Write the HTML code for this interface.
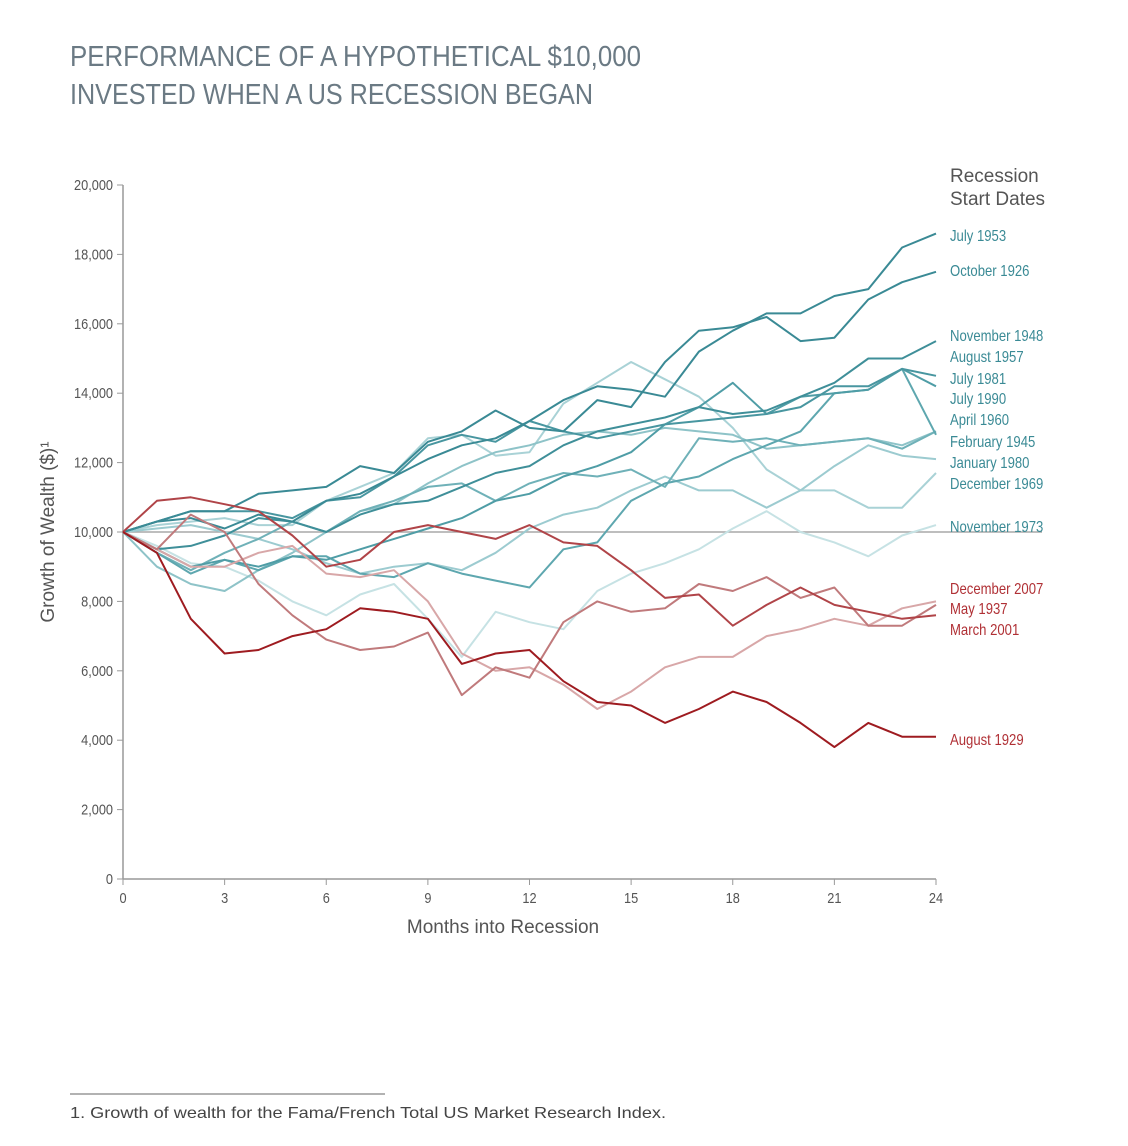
<!DOCTYPE html>
<html><head><meta charset="utf-8"><style>
body{margin:0;background:#fff;}
svg{display:block;font-family:"Liberation Sans",sans-serif;}
</style></head><body>
<svg id="chart" width="1128" height="1146" viewBox="0 0 1128 1146">
<text x="70" y="66" font-size="29" fill="#6b7a84" textLength="571" lengthAdjust="spacingAndGlyphs">PERFORMANCE OF A HYPOTHETICAL $10,000</text>
<text x="70" y="104" font-size="29" fill="#6b7a84" textLength="523" lengthAdjust="spacingAndGlyphs">INVESTED WHEN A US RECESSION BEGAN</text>
<text x="950" y="182" font-size="19" fill="#555">Recession</text>
<text x="950" y="205" font-size="19" fill="#555">Start Dates</text>
<g id="axes"></g>
<g id="lines"></g>
<g id="labels"></g>
<text x="503" y="933" font-size="19" fill="#555" text-anchor="middle">Months into Recession</text>
<text transform="translate(54,532) rotate(-90)" font-size="19" fill="#555" text-anchor="middle">Growth of Wealth ($)¹</text>
<line x1="70" y1="1094" x2="385" y2="1094" stroke="#666" stroke-width="1"/>
<text x="70" y="1118" font-size="16" fill="#444" textLength="596" lengthAdjust="spacingAndGlyphs">1.  Growth of wealth for the Fama/French Total US Market Research Index.</text>
</svg>
<script>
const xTicks=[0,3,6,9,12,15,18,21,24];
const yTicks=[0,2000,4000,6000,8000,10000,12000,14000,16000,18000,20000];
const seriesNames=["December 1969","November 1973","February 1945","January 1980","July 1990","April 1960","July 1981","August 1957","November 1948","October 1926","July 1953","December 2007","May 1937","March 2001","August 1929"];
const s_dec1969=[10,10.2,10.3,10.4,10.2,10.2,10.9,11.3,11.7,12.7,12.8,12.2,12.3,13.7,14.3,14.9,14.4,13.9,13.0,11.8,11.2,11.2,10.7,10.7,11.7];
const s_nov1973=[10,9.6,9.1,9.0,8.6,8.0,7.6,8.2,8.5,7.5,6.4,7.7,7.4,7.2,8.3,8.8,9.1,9.5,10.1,10.6,10.0,9.7,9.3,9.9,10.2];
const s_feb1945=[10,9.0,8.5,8.3,8.9,9.4,10.0,10.6,10.8,11.4,11.9,12.3,12.5,12.8,12.9,12.8,13.0,12.9,12.8,12.4,12.5,12.6,12.7,12.5,12.9];
const s_jan1980=[10,10.1,10.2,10.0,9.8,9.5,9.1,8.8,9.0,9.1,8.9,9.4,10.1,10.5,10.7,11.2,11.6,11.2,11.2,10.7,11.2,11.9,12.5,12.2,12.1];
const s_jul1990=[10,9.4,8.9,9.4,9.8,10.3,10.0,10.6,10.9,11.3,11.4,10.9,11.4,11.7,11.6,11.8,11.3,12.7,12.6,12.7,12.5,12.6,12.7,12.4,12.9];
const s_apr1960=[10,9.4,8.8,9.2,8.9,9.3,9.3,8.8,8.7,9.1,8.8,8.6,8.4,9.5,9.7,10.9,11.4,11.6,12.1,12.5,12.9,14.0,14.1,14.7,12.8];
const s_jul1981=[10,9.5,9.0,9.2,9.0,9.3,9.2,9.5,9.8,10.1,10.4,10.9,11.1,11.6,11.9,12.3,13.1,13.6,14.3,13.4,13.9,14.0,14.1,14.7,14.2];
const s_aug1957=[10,10.3,10.6,10.6,10.6,10.4,10.9,11.0,11.6,12.5,12.8,12.6,13.2,12.9,12.7,12.9,13.1,13.2,13.3,13.4,13.6,14.2,14.2,14.7,14.5];
const s_nov1948=[10,9.5,9.6,9.9,10.4,10.3,10.0,10.5,10.8,10.9,11.3,11.7,11.9,12.5,12.9,13.1,13.3,13.6,13.4,13.5,13.9,14.3,15.0,15.0,15.5];
const s_oct1926=[10,10.3,10.6,10.6,11.1,11.2,11.3,11.9,11.7,12.6,12.9,13.5,13.0,12.9,13.8,13.6,14.9,15.8,15.9,16.2,15.5,15.6,16.7,17.2,17.5];
const s_jul1953=[10,10.3,10.4,10.1,10.5,10.3,10.9,11.1,11.6,12.1,12.5,12.7,13.2,13.8,14.2,14.1,13.9,15.2,15.8,16.3,16.3,16.8,17.0,18.2,18.6];
const s_dec2007=[10,9.5,9.0,9.0,9.4,9.6,8.8,8.7,8.9,8.0,6.5,6.0,6.1,5.6,4.9,5.4,6.1,6.4,6.4,7.0,7.2,7.5,7.3,7.8,8.0];
const s_may1937=[10,9.5,10.5,10.0,8.5,7.6,6.9,6.6,6.7,7.1,5.3,6.1,5.8,7.4,8.0,7.7,7.8,8.5,8.3,8.7,8.1,8.4,7.3,7.3,7.9];
const s_mar2001=[10,10.9,11.0,10.8,10.6,9.9,9.0,9.2,10.0,10.2,10.0,9.8,10.2,9.7,9.6,8.9,8.1,8.2,7.3,7.9,8.4,7.9,7.7,7.5,7.6];
const s_aug1929=[10,9.4,7.5,6.5,6.6,7.0,7.2,7.8,7.7,7.5,6.2,6.5,6.6,5.7,5.1,5.0,4.5,4.9,5.4,5.1,4.5,3.8,4.5,4.1,4.1];
const seriesValues=[s_dec1969,s_nov1973,s_feb1945,s_jan1980,s_jul1990,s_apr1960,s_jul1981,s_aug1957,s_nov1948,s_oct1926,s_jul1953,s_dec2007,s_may1937,s_mar2001,s_aug1929];
const colors=["#a9d2d6","#c6e2e4","#8ec3c8","#9ccbd0","#6fb1b8","#5ea7af","#4f9da6","#4896a0","#3f8f99","#3a8a95","#3a8a95","#d8a7a8","#c07a7c","#b04448","#9e1b20"];
const labelY=[484,527,442,463,399,420,379,357,336,271,236,589,609,630,740];
const labelColor=["#3a8a95","#3a8a95","#3a8a95","#3a8a95","#3a8a95","#3a8a95","#3a8a95","#3a8a95","#3a8a95","#3a8a95","#3a8a95","#b03035","#b03035","#b03035","#b03035"];
const NS="http://www.w3.org/2000/svg";
const x=m=>123+m*(813/24);
const y=v=>879-v*(694/20000);
function mk(t,a,p){const e=document.createElementNS(NS,t);for(const k in a)e.setAttribute(k,a[k]);p.appendChild(e);return e;}
const ax=document.getElementById('axes');
let yl=mk('line',{x1:123,y1:185,x2:123,y2:879,stroke:'#999','stroke-width':1.5},ax);


let xl=mk('line',{x1:123,y1:879,x2:936,y2:879,stroke:'#999','stroke-width':1.5},ax);


yTicks.forEach(v=>{
 let t=mk('line',{x1:117,y1:y(v),x2:123,y2:y(v),stroke:'#999'},ax);
 
 
 let l=mk('text',{transform:'translate(113,'+(y(v)+5)+') scale(0.85,1)','text-anchor':'end','font-size':15,fill:'#555'},ax);
 l.textContent=v.toLocaleString('en-US');
 
 
});
xTicks.forEach(m=>{
 let t=mk('line',{x1:x(m),y1:879,x2:x(m),y2:885,stroke:'#999'},ax);
 
 
 let l=mk('text',{transform:'translate('+x(m)+',903) scale(0.85,1)','text-anchor':'middle','font-size':15,fill:'#555'},ax);
 l.textContent=m;
 
 
});
const g=document.getElementById('lines');
let base=mk('line',{x1:123,y1:y(10000),x2:1042,y2:y(10000),stroke:'#a8a8a8','stroke-width':1.6},g);


const lg=document.getElementById('labels');
seriesValues.forEach((s,i)=>{
 const d=s.map((v,m)=>(m?'L':'M')+x(m).toFixed(1)+','+y(v*1000).toFixed(1)).join('');
 let p=mk('path',{d:d,fill:'none',stroke:colors[i],'stroke-width':2,'stroke-linejoin':'round'},g);
 
 
 let t=mk('text',{transform:'translate(950,'+(labelY[i]+5)+') scale(0.82,1)','font-size':16,fill:labelColor[i]},lg);
 t.textContent=seriesNames[i];
 
 
});
</script>
</body></html>
